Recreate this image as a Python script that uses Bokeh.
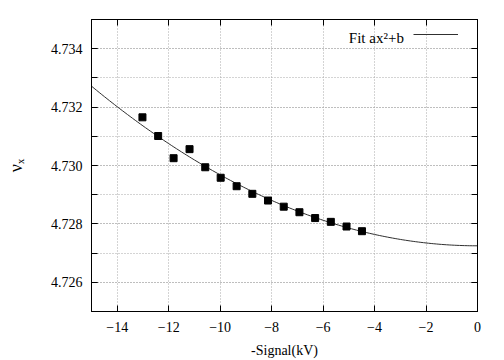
from bokeh.plotting import figure
from bokeh.models import (FixedTicker, PrintfTickFormatter, LinearAxis, Label,
                          Legend, LegendItem, Range1d)
from bokeh.embed import file_html
from bokeh.resources import INLINE
import numpy as np

# data
signal_kv = [-13.02, -12.41, -11.81, -11.19, -10.58, -9.98, -9.36, -8.75,
             -8.14, -7.53, -6.92, -6.31, -5.70, -5.09, -4.49]
nu_x = [4.73165, 4.73101, 4.73025, 4.73056, 4.72994, 4.72958, 4.72929, 4.72903,
        4.72880, 4.72859, 4.72840, 4.72820, 4.72807, 4.72791, 4.72775]
fit_a = 2.43e-5
fit_b = 4.72725
x_ticks = [-14, -12, -10, -8, -6, -4, -2, 0]
y_ticks = [4.726, 4.728, 4.730, 4.732, 4.734]
y_minor = [4.725, 4.726, 4.727, 4.728, 4.729, 4.730, 4.731, 4.732, 4.733, 4.734, 4.735]

fit_x = np.linspace(-15, 0, 151)
fit_y = fit_a * fit_x ** 2 + fit_b

FONT = "Liberation Serif"

p = figure(width=496, height=360, output_backend="svg", toolbar_location=None,
           x_range=Range1d(-15, 0), y_range=Range1d(4.725, 4.735),
           min_border_left=91, min_border_right=19, min_border_top=19,
           min_border_bottom=48)
p.background_fill_color = "white"
p.outline_line_color = "black"
p.outline_line_width = 1

curve = p.line(fit_x, fit_y, line_color="#303030", line_width=1)
p.scatter(signal_kv, nu_x, marker="square", size=7, fill_color="black",
          line_color="black")

# axes
p.xaxis.ticker = FixedTicker(ticks=x_ticks)
p.yaxis.ticker = FixedTicker(ticks=y_ticks, minor_ticks=y_minor)
p.yaxis.formatter = PrintfTickFormatter(format="%.3f")
for ax in (p.xaxis[0], p.yaxis[0]):
    ax.major_tick_in = 6
    ax.major_tick_out = 0
    ax.minor_tick_in = 6
    ax.minor_tick_out = 0
    ax.axis_line_color = "black"
    ax.major_tick_line_color = "black"
    ax.minor_tick_line_color = "black"
    ax.major_label_text_font = FONT
    ax.major_label_text_font_size = "14px"
    ax.major_label_text_color = "black"
    ax.axis_label_text_font = FONT
    ax.axis_label_text_font_style = "normal"
    ax.axis_label_text_color = "black"
p.xaxis.axis_label = "-Signal(kV)"
p.xaxis.axis_label_text_font_size = "14px"
p.xaxis.major_label_standoff = 10
p.xaxis.axis_label_standoff = 8
p.yaxis.axis_label = "νₓ"
p.yaxis.axis_label_text_font_size = "18px"
p.yaxis.major_label_standoff = 9
p.yaxis.axis_label_standoff = 22
p.xaxis.minor_tick_line_color = None

# mirrored axes (ticks only)
top = LinearAxis(ticker=FixedTicker(ticks=x_ticks), major_label_text_font_size="0px",
                 major_tick_in=6, major_tick_out=0, minor_tick_line_color=None,
                 axis_line_color="black", major_label_text_color=None)
right = LinearAxis(ticker=FixedTicker(ticks=y_ticks, minor_ticks=y_minor),
                   major_label_text_font_size="0px",
                   major_tick_in=6, major_tick_out=0, minor_tick_in=6, minor_tick_out=0,
                   axis_line_color="black", major_label_text_color=None)
p.add_layout(top, "above")
p.add_layout(right, "right")
top.major_label_standoff = 0
right.major_label_standoff = 0

# grid
p.xgrid.ticker = FixedTicker(ticks=x_ticks)
p.xgrid.grid_line_color = "#a8a8a8"
p.xgrid.grid_line_dash = "1 2"
p.ygrid.grid_line_color = "#a8a8a8"
p.ygrid.grid_line_dash = "1 2"
p.ygrid.minor_grid_line_color = "#a8a8a8"
p.ygrid.minor_grid_line_dash = "1 2"

# key
legend = Legend(items=[LegendItem(label=" ", renderers=[curve])],
                location="top_right", glyph_width=45, glyph_height=30,
                label_width=19, label_standoff=0, padding=4, margin=0,
                border_line_color=None, background_fill_alpha=0,
                label_text_font_size="1px")
p.add_layout(legend)
p.add_layout(Label(x=-2.86, y=4.73435, text="Fit ax²+b", text_align="right",
                   text_baseline="alphabetic", text_font=FONT,
                   text_font_size="15px", text_color="black"))

open("out.html", "w").write(file_html(p, INLINE))
